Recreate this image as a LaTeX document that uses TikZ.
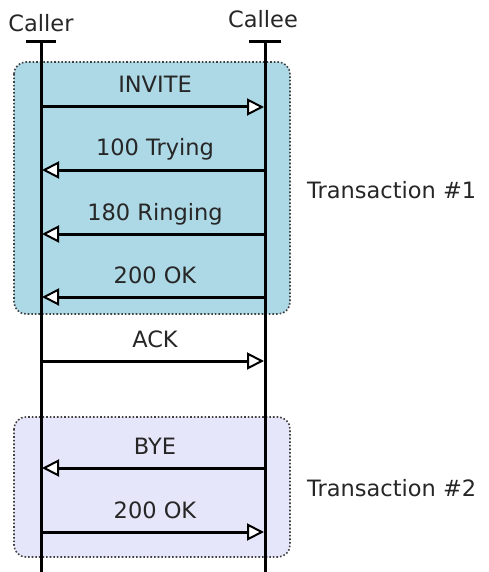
\documentclass[tikz,border=0pt]{standalone}
\usepackage{fontspec}
\setmainfont{DejaVu Sans}
\usetikzlibrary{arrows.meta}
\begin{document}
\begin{tikzpicture}[x=1pt,y=-1pt,
  lifeline/.style={line width=3pt},
  msg/.style={line width=3pt,-{Triangle[length=17pt,width=17pt,fill=white,line width=2pt]}},
  lbl/.style={font=\fontsize{22.5}{25}\selectfont,text=black!85,inner sep=0pt,anchor=base},
  txbox/.style={draw=black!75,dotted,line width=1.6pt,rounded corners=12pt},
  txlabel/.style={font=\fontsize{22.5}{25}\selectfont,text=black!85,inner sep=0pt,anchor=base west}]
\useasboundingbox (0,0) rectangle (488,572);

% transaction boxes
\draw[txbox,fill={rgb,255:red,173;green,216;blue,230}] (14,62) rectangle (290,314);
\draw[txbox,fill={rgb,255:red,230;green,230;blue,250}] (14,417) rectangle (290,557);

% participants
\node[lbl] (caller) at (41,32) {Caller};
\node[lbl] (callee) at (263,28) {Callee};
\coordinate (aTop) at (41,42);
\coordinate (aBot) at (41,572);
\coordinate (bTop) at (265,42);
\coordinate (bBot) at (265,572);
\draw[lifeline] (aTop) -- (aBot);
\draw[lifeline] (bTop) -- (bBot);
\draw[lifeline] ([xshift=-15pt]aTop) -- ([xshift=15pt]aTop);
\draw[lifeline] ([xshift=-16pt]bTop) -- ([xshift=16pt]bTop);

% messages
\foreach \name/\y/\dir/\txt in {
  m1/107/r/INVITE,
  m2/170/l/100 Trying,
  m3/234/l/180 Ringing,
  m4/297/l/200 OK,
  m5/361/r/ACK,
  m6/468/l/BYE,
  m7/532/r/200 OK}{
  \coordinate (\name a) at (41,\y);
  \coordinate (\name b) at (265,\y);
  \if r\dir
    \draw[msg] (\name a) -- ([xshift=-1pt]\name b);
  \else
    \draw[msg] (\name b) -- ([xshift=1pt]\name a);
  \fi
  \node[lbl] (\name t) at (155,\y-14) {\txt};
}

% transaction names
\node[txlabel] (t1) at (307,198) {Transaction \#1};
\node[txlabel] (t2) at (307,496) {Transaction \#2};
\end{tikzpicture}
\end{document}
